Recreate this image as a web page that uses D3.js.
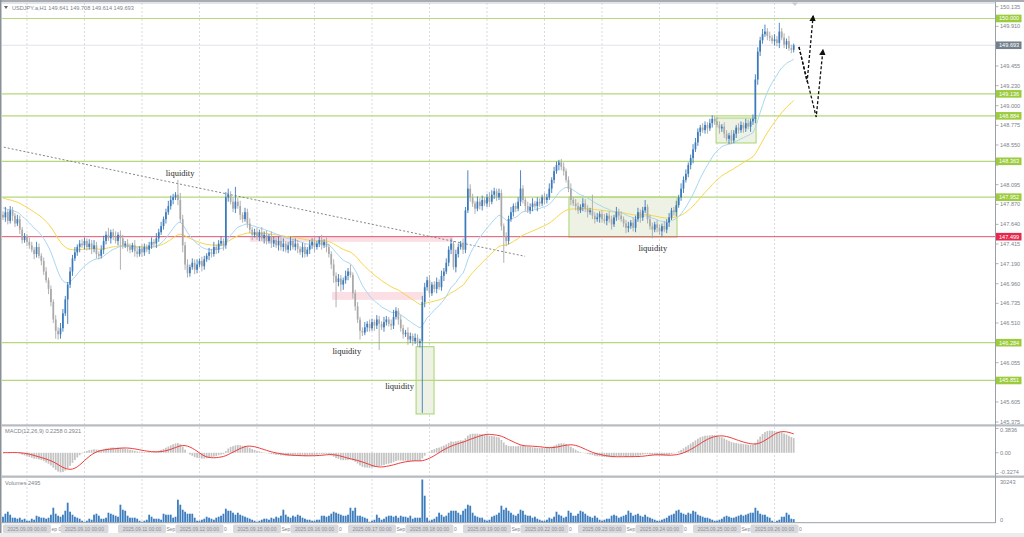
<!DOCTYPE html>
<html><head><meta charset="utf-8">
<script src="https://cdn.jsdelivr.net/npm/d3@7"></script>
<style>
body{margin:0;background:#fff;overflow:hidden}
svg{display:block}
text{font-family:"Liberation Sans",Arial,sans-serif}
text.lq{font-family:"Liberation Serif","DejaVu Serif",serif}
</style></head>
<body><svg id="c" width="1024" height="537"></svg>
<script>
// ---------------- DATA ----------------
const symbolTitle = "USDJPY.a,H1";
const lastOHLC = ["149.641","149.708","149.614","149.693"];
const firstOpen = 147.75;
// hourly closes, 2025.09.08 14:00 .. 2025.09.26 08:00
const closes = [
147.72,147.78,147.68,147.80,147.74,147.65,147.70,147.58,147.46,147.50,147.44,
147.40,147.35,147.30,147.38,147.28,147.22,147.10,147.00,146.90,146.75,146.55,146.42,146.38,146.45,
146.62,146.78,146.95,147.10,147.25,147.32,147.38,147.42,
147.40,147.45,147.38,147.42,147.36,147.40,147.30,147.28,147.35,147.45,147.52,147.48,147.55,147.50,147.45,147.52,147.48,147.40,
147.42,147.38,147.35,147.40,147.33,147.30,147.36,147.32,147.38,147.35,147.40,147.44,147.42,147.48,147.55,
147.62,147.70,147.78,147.85,147.92,147.95,147.98,147.92,
147.70,147.40,147.18,147.08,147.15,147.20,147.12,147.18,147.22,147.16,147.24,
147.28,147.32,147.30,147.38,147.35,147.42,147.45,147.40,
147.95,147.98,147.90,147.82,147.90,147.85,147.75,147.70,147.78,147.65,147.58,147.52,147.55,147.50,
147.55,147.48,147.52,147.45,147.50,147.42,147.46,147.40,147.45,147.38,147.42,147.35,147.40,147.45,147.38,147.42,147.36,147.32,147.38,147.30,147.35,147.40,147.44,147.38,147.42,147.46,147.40,147.44,147.38,
147.30,147.18,147.05,146.98,147.02,146.95,147.00,147.05,147.10,147.06,146.85,146.70,
146.55,146.42,146.40,146.46,146.50,146.45,146.52,146.48,146.55,146.50,146.46,146.52,146.55,146.50,146.48,146.58,146.65,146.55,
146.45,146.38,146.40,146.32,146.36,146.30,146.34,146.28,146.30,
146.75,
146.92,147.00,146.85,146.95,146.90,146.98,146.92,147.05,147.10,147.20,147.35,147.42,147.15,147.30,147.38,147.42,147.35,147.80,148.05,
147.95,147.88,147.82,147.90,147.85,147.92,147.88,147.95,147.90,147.98,148.02,147.95,148.00,147.62,147.50,147.45,
147.70,147.78,147.85,147.82,147.90,148.05,147.92,147.85,147.80,147.84,147.88,147.85,147.90,147.88,147.95,147.92,
147.95,148.05,148.15,148.25,148.32,148.35,148.30,148.25,148.15,148.05,147.92,147.88,
147.85,147.80,147.84,147.88,147.82,147.78,147.80,147.74,147.70,147.72,147.76,147.70,147.68,147.74,147.70,147.64,147.72,147.78,147.74,147.70,147.65,147.60,
147.62,147.66,147.60,147.70,147.78,147.72,147.80,147.84,147.70,147.62,147.58,147.64,147.60,147.56,147.62,147.58,147.66,147.72,147.80,147.78,
147.86,147.95,148.05,148.15,148.22,148.32,148.40,148.50,148.58,148.70,148.75,148.72,148.78,148.74,148.80,148.85,148.82,
148.78,148.74,148.76,148.68,148.62,148.66,148.60,148.68,148.75,148.72,148.78,148.74,148.80,148.76,148.82,148.85,
149.30,149.62,149.75,149.82,149.85,149.80,149.78,149.74,149.76,149.72,149.85,149.78,149.70,149.74,149.66,149.641,149.693
];
// upper / lower shadows in pips (0.01)
const wickUp = [
4,6,3,5,4,3,5,4,3,4,3,5,4,3,6,4,3,4,5,3,
4,3,5,4,6,5,4,3,5,4,6,3,4,5,4,3,5,4,6,4,
3,5,6,4,8,3,4,6,3,5,4,3,5,4,3,6,4,3,5,4,
3,4,5,3,6,4,5,3,4,6,5,4,3,17,8,5,4,6,3,5,
4,6,3,5,4,3,5,4,6,3,4,5,3,6,7,4,5,17,4,6,
3,5,4,6,3,4,5,3,6,4,5,3,6,4,3,5,4,6,3,4,
5,3,6,4,3,5,4,3,6,4,5,3,4,6,3,5,4,3,6,4,
5,4,3,6,4,8,3,4,5,3,4,6,3,5,4,3,5,4,3,6,
4,3,5,8,4,3,5,4,3,6,4,3,5,4,3,7,5,4,6,3,
4,5,3,6,4,5,4,6,3,5,4,3,6,4,21,5,4,3,6,4,
5,3,4,6,5,4,3,5,4,3,5,4,6,3,4,5,21,4,3,5,
4,6,3,5,4,3,5,4,6,3,5,4,3,4,5,3,4,6,3,5,
4,3,6,5,4,3,18,4,5,3,4,6,3,5,4,3,6,4,5,3,
4,5,3,6,4,5,3,4,8,3,5,4,3,5,4,3,6,4,5,3,
4,5,3,6,4,5,3,4,6,5,4,3,5,4,3,5,4,3,5,4,
3,5,4,3,6,4,3,5,4,3,5,4,3,5,6,5,4,6,8,4,
5,3,6,4,10,4,5,3,6,4,2
];
const wickDn = [
3,5,4,3,6,4,3,5,4,3,5,4,3,6,4,3,5,4,3,6,
5,4,9,6,5,4,3,28,4,5,3,4,6,3,5,4,3,6,4,5,
4,3,5,4,3,6,4,3,5,36,4,3,5,4,3,6,4,3,5,4,
3,5,4,3,5,4,3,4,5,3,4,5,3,6,4,8,6,5,4,3,
5,4,3,6,4,3,5,4,3,5,4,3,6,4,5,3,4,5,3,6,
4,3,5,4,6,3,4,5,3,6,4,3,5,4,3,6,4,5,3,4,
6,3,4,5,3,6,4,3,5,4,6,3,4,5,3,6,4,5,8,29,
5,8,6,4,5,3,6,5,4,10,4,3,5,4,3,6,4,30,3,5,
4,3,5,4,3,6,4,5,3,6,4,5,3,4,5,82,6,4,5,3,
4,5,3,4,6,3,4,5,3,6,4,3,5,4,3,5,4,6,3,4,
5,3,4,6,3,5,4,3,5,30,6,4,3,5,4,3,5,4,6,3,
4,5,3,6,4,3,5,4,3,5,4,3,6,4,5,3,4,6,3,5,
4,3,5,4,6,3,4,5,3,6,4,3,5,4,6,3,4,5,3,4,
6,5,3,4,5,3,6,4,3,5,4,10,3,5,4,6,3,4,5,3,
4,5,3,4,5,3,4,5,6,3,4,5,3,4,6,3,5,4,3,6,
4,5,3,6,4,3,5,4,3,5,4,3,6,4,5,6,5,4,3,5,
4,3,5,4,6,3,4,5,3,4,3
];
const volumes = [
4200,6300,7700,5600,3500,3500,2800,3500,2100,2800,
1400,1400,2800,2100,4900,4200,3500,3500,2800,3500,5600,10500,6300,4900,4200,5600,8400,14000,7700,5600,4200,3500,2800,1400,
700,1400,2800,2100,5600,6300,4900,2800,2800,3500,7000,6300,5600,4900,4200,12600,9100,8400,4900,3500,3500,3500,2800,1400,
700,1400,2100,5600,4200,2800,2800,2800,2100,6300,5600,5600,5600,3500,4200,16100,12600,9100,7700,6300,6300,6300,3500,1400,
1400,2100,2800,4200,3500,2800,2100,3500,4200,4900,6300,9800,8400,8400,7000,5600,7000,5600,4900,4200,3500,2800,2100,1400,
700,1400,2100,2800,2800,2100,3500,2800,4200,3500,4900,9100,5600,4200,3500,4900,4200,5600,4900,3500,2800,2100,2100,1400,
1400,2100,2100,4900,4900,4200,4900,6300,7700,7000,6300,5600,4900,4900,5600,10500,8400,10500,4900,4900,4200,3500,2800,700,
1400,2100,5600,3500,2100,2800,4200,4900,4900,4200,4900,3500,4900,4200,4200,3500,4900,2800,3500,3500,3500,30243,18900,3500,
1400,2100,2800,4200,7000,5600,4200,4900,7000,8400,8400,8400,7000,5600,8400,9800,12600,11900,7000,4900,4200,3500,3500,2100,
1400,2100,4200,4900,5600,7000,11900,9100,10500,8400,7000,5600,4900,6300,9100,8400,5600,4900,4900,3500,4200,2800,2100,1400,
1400,2100,3500,2800,4200,7700,5600,4900,3500,4200,8400,7000,4900,4900,6300,8400,7700,6300,4900,4200,3500,4900,3500,2100,
1400,2100,2800,2800,4900,5600,4900,3500,4200,4900,5600,8400,7000,4900,5600,6300,4900,4200,5600,4200,3500,2800,2100,1400,
1400,2100,2800,3500,4900,5600,6300,8400,9100,7000,6300,5600,7000,6300,8400,7700,5600,4900,4200,3500,3500,2800,2100,1400,
1400,2100,2800,4200,4900,4200,3500,3500,4200,4900,5600,4900,5600,6300,7000,7000,10500,8400,6300,5600,5600,4200,3500,1400,
700,1400,2100,4200,4200,7000,5600,2800,2495
];
const dayLabels = ["2025.09.09 00:00","2025.09.10 00:00","2025.09.11 00:00","2025.09.12 00:00","2025.09.15 00:00","2025.09.16 00:00","2025.09.17 00:00","2025.09.18 00:00","2025.09.19 00:00","2025.09.22 00:00","2025.09.23 00:00","2025.09.24 00:00","2025.09.25 00:00","2025.09.26 00:00"];
const dayStartBar = [10,34,58,82,106,130,154,178,202,226,250,274,298,322];
const axisFragments = ["ep 0","","Sep","0","Sep","0","Sep","0","Sep","0","Sep","0","Sep","0"];
const priceTicks = [150.135,149.910,149.680,149.455,149.230,149.000,148.775,148.550,148.320,148.095,147.870,147.640,147.415,147.190,146.960,146.735,146.510,146.285,146.055,145.830,145.605,145.375];
const greenLevels = [150.000,149.136,148.884,148.363,147.952,146.284,145.851];
const redLevel = 147.499;
const macdTicks = [["0.3836",0.3836],["0.00",0],["-0.3274",-0.3274]];
const macdTitle = "MACD(12,26,9) 0.2258 0.2921";
const volTitle = "Volumes 2495";
const volMax = 30243;
// drawn objects in [bar, price]
const trendLine = [[-1.3,148.534],[217.9,147.274]];
const pinkZones = [[103.1,187.8,147.499,147.44],[137.3,175.3,146.865,146.775]];
const greenZones = [[172.4,179.9,146.238,145.467],[236.2,281.3,147.954,147.495],[297.6,314.3,148.859,148.573]];
const liquidityNotes = [[73.9,148.19],[143.5,146.15],[165.5,145.75],[271.2,147.33]];
const arrowPaths = [[[332.2,149.673],[335.6,149.272],[338.1,150.028]],[[332.2,149.673],[339.4,148.871],[342.2,149.639]]];
const fastSeed = 147.84, slowSeed = 147.95;

// ---------------- CHART ----------------
const svg = d3.select("#c");
const N = closes.length;
const candles = closes.map((c,i)=>{
  const o = i ? closes[i-1] : firstOpen;
  return {i, o, c, h: Math.max(o,c)+wickUp[i]/100, l: Math.min(o,c)-wickDn[i]/100, v: volumes[i]};
});
const x = d3.scaleLinear().domain([0,330]).range([3,793.7]);
const y = d3.scaleLinear().domain([145.375,150.135]).range([422,6.7]);
const yM = d3.scaleLinear().domain([-0.3274,0.3836]).range([473.5,428.5]);
const yV = d3.scaleLinear().domain([0,volMax]).range([522.7,479.5]);
const AX = 995.5;
const txtCol = "#7d838c";

// background / frame
svg.append("rect").attr("width",1024).attr("height",537).attr("fill","#fff");
svg.append("rect").attr("x",0).attr("y",533).attr("width",1024).attr("height",4).attr("fill","#ececec");
svg.append("rect").attr("x",0).attr("y",0).attr("width",1024).attr("height",2).attr("fill","#a9adb3");
svg.append("rect").attr("x",0).attr("y",0).attr("width",1.5).attr("height",533).attr("fill","#8c9198");

const defs = svg.append("defs");
defs.append("clipPath").attr("id","cm").append("rect").attr("x",2).attr("y",3).attr("width",AX-2).attr("height",421.5);
defs.append("clipPath").attr("id","cd").append("rect").attr("x",2).attr("y",427).attr("width",AX-2).attr("height",48.5);
defs.append("clipPath").attr("id","cv").append("rect").attr("x",2).attr("y",478).attr("width",AX-2).attr("height",44.7);
defs.append("marker").attr("id","ah").attr("viewBox","0 0 10 10").attr("refX",8).attr("refY",5)
  .attr("markerWidth",5).attr("markerHeight",5).attr("orient","auto")
  .append("path").attr("d","M0,0 L10,5 L0,10 z").attr("fill","#111");

// grid (day separators)
svg.append("g").attr("class","grid").selectAll("line").data(dayStartBar).join("line")
  .attr("x1",d=>x(d)).attr("x2",d=>x(d)).attr("y1",3).attr("y2",522.7)
  .attr("stroke","#cfd2d6").attr("stroke-width",0.8).attr("stroke-dasharray","2,2");

const gm = svg.append("g").attr("clip-path","url(#cm)");
// zones
gm.selectAll("rect.pz").data(pinkZones).join("rect").attr("class","pz")
  .attr("x",d=>x(d[0])).attr("width",d=>x(d[1])-x(d[0]))
  .attr("y",d=>y(d[2])).attr("height",d=>y(d[3])-y(d[2])).attr("fill","#fbdfe5");
gm.selectAll("rect.gz").data(greenZones).join("rect").attr("class","gz")
  .attr("x",d=>x(d[0])).attr("width",d=>x(d[1])-x(d[0]))
  .attr("y",d=>y(d[2])).attr("height",d=>y(d[3])-y(d[2]))
  .attr("fill","#eef2e5").attr("stroke","#a6d36e").attr("stroke-width",1);
// levels
gm.selectAll("line.gl").data(greenLevels).join("line").attr("class","gl")
  .attr("x1",2).attr("x2",AX).attr("y1",d=>y(d)).attr("y2",d=>y(d))
  .attr("stroke","#b4d87a").attr("stroke-width",1.2);
gm.append("line").attr("x1",2).attr("x2",AX).attr("y1",y(redLevel)).attr("y2",y(redLevel))
  .attr("stroke","#e0546c").attr("stroke-width",1);
const lastClose = closes[N-1];
gm.append("line").attr("x1",2).attr("x2",AX).attr("y1",y(lastClose)).attr("y2",y(lastClose))
  .attr("stroke","#e2e2f2").attr("stroke-width",1);
// trend line
gm.append("line").attr("x1",x(trendLine[0][0])).attr("y1",y(trendLine[0][1]))
  .attr("x2",x(trendLine[1][0])).attr("y2",y(trendLine[1][1]))
  .attr("stroke","#777").attr("stroke-width",0.9).attr("stroke-dasharray","2,2");

// moving averages
function ema(arr,n,seed){const a=2/(n+1);let e=seed;return arr.map(v=>(e=e+a*(v-e)));}
const maFast = ema(closes,20,fastSeed), maSlow = ema(closes,50,slowSeed);
const ln = d3.line().x((d,i)=>x(i)).y(d=>y(d));
gm.append("path").attr("d",ln(maSlow)).attr("fill","none").attr("stroke","#f6d54a").attr("stroke-width",1);
gm.append("path").attr("d",ln(maFast)).attr("fill","none").attr("stroke","#a6d6f2").attr("stroke-width",1);

// candles
const bull="#3b79ba", bear="#a9a9a9";
const cg = gm.append("g");
cg.selectAll("line").data(candles).join("line")
  .attr("x1",d=>x(d.i)).attr("x2",d=>x(d.i)).attr("y1",d=>y(d.h)).attr("y2",d=>y(d.l))
  .attr("stroke",d=>d.c>=d.o?bull:bear).attr("stroke-width",0.9);
cg.selectAll("rect").data(candles).join("rect")
  .attr("x",d=>x(d.i)-0.85).attr("width",1.7)
  .attr("y",d=>y(Math.max(d.o,d.c))).attr("height",d=>Math.max(0.8,Math.abs(y(d.o)-y(d.c))))
  .attr("fill",d=>d.c>=d.o?bull:bear);

// notes
gm.selectAll("text.lq").data(liquidityNotes).join("text").attr("class","lq")
  .attr("x",d=>x(d[0])).attr("y",d=>y(d[1])).attr("text-anchor","middle")
  .attr("font-size",8.5).attr("fill","#2a2a2a")
  .text("liquidity");
// arrows
const la = d3.line().x(d=>x(d[0])).y(d=>y(d[1]));
svg.selectAll("path.ar").data(arrowPaths).join("path").attr("class","ar")
  .attr("d",d=>la(d)).attr("fill","none").attr("stroke","#111").attr("stroke-width",1.3)
  .attr("stroke-dasharray","3,2").attr("marker-end","url(#ah)");
svg.append("path").attr("d",`M${x(330.5)-3},2.5 L${x(330.5)+3},2.5 L${x(330.5)},6 z`).attr("fill","#c8ccd4");

// header
svg.append("path").attr("d","M4,6 L8,6 L6,9 z").attr("fill","#666");
svg.append("text").attr("x",12).attr("y",9.5).attr("font-size",5.6).attr("fill",txtCol)
  .text(symbolTitle+"  "+lastOHLC.join(" "));

// MACD
const e12 = ema(closes,12,closes[0]), e26 = ema(closes,26,closes[0]);
const macd = e12.map((v,i)=>v-e26[i]);
const signal = macd.map((v,i)=>d3.mean(macd.slice(Math.max(0,i-8),i+1)));
const gd = svg.append("g").attr("clip-path","url(#cd)");
gd.selectAll("rect").data(macd).join("rect")
  .attr("x",(d,i)=>x(i)-0.85).attr("width",1.7)
  .attr("y",d=>Math.min(yM(d),yM(0))).attr("height",d=>Math.abs(yM(d)-yM(0)))
  .attr("fill","#c3c3c3");
gd.append("path").attr("d",d3.line().x((d,i)=>x(i)).y(d=>yM(d))(signal))
  .attr("fill","none").attr("stroke","#f03a3a").attr("stroke-width",1);
svg.append("text").attr("x",5).attr("y",433).attr("font-size",5.6).attr("fill",txtCol).text(macdTitle);

// Volumes
const gv = svg.append("g").attr("clip-path","url(#cv)");
gv.selectAll("rect").data(candles).join("rect")
  .attr("x",d=>x(d.i)-0.9).attr("width",1.8)
  .attr("y",d=>yV(d.v)).attr("height",d=>yV(0)-yV(d.v)).attr("fill","#3d7dbe");
svg.append("text").attr("x",5).attr("y",485).attr("font-size",5.6).attr("fill",txtCol).text(volTitle);

// panel frames
const fr = svg.append("g");
[[424.3,2.2],[475.5,2.3]].forEach(([yy,hh])=>fr.append("rect").attr("x",1.5).attr("y",yy).attr("width",1022.5).attr("height",hh).attr("fill","#b7bcc3"));
fr.append("line").attr("x1",1.5).attr("x2",AX).attr("y1",522.7).attr("y2",522.7).attr("stroke","#9aa0a8").attr("stroke-width",1);
fr.append("line").attr("x1",AX).attr("x2",AX).attr("y1",2).attr("y2",523).attr("stroke","#9aa0a8").attr("stroke-width",1);
fr.append("line").attr("x1",1.5).attr("x2",AX).attr("y1",3).attr("y2",3).attr("stroke","#c5c9ce").attr("stroke-width",1);

// right price axis (labels hidden by level tags are not drawn)
const lastCloseVal = closes[N-1];
const tagVals = greenLevels.concat([redLevel, lastCloseVal]);
const visTicks = priceTicks.filter(t=>tagVals.every(v=>Math.abs(y(v)-y(t))>6));
const ra = svg.append("g");
ra.selectAll("line").data(priceTicks).join("line")
  .attr("x1",AX).attr("x2",AX+3).attr("y1",d=>y(d)).attr("y2",d=>y(d)).attr("stroke","#9aa0a8").attr("stroke-width",0.8);
ra.selectAll("text").data(visTicks).join("text")
  .attr("x",AX+4.5).attr("y",d=>y(d)+2).attr("font-size",5.6).attr("fill",txtCol)
  .text(d=>d3.format(".3f")(d));
function tag(val, col, label){
  const yy = y(val);
  ra.append("rect").attr("x",AX+0.5).attr("y",yy-3.8).attr("width",25.5).attr("height",7.6).attr("fill",col);
  ra.append("text").attr("x",AX+3.5).attr("y",yy+2).attr("font-size",5.6).attr("fill","#fff").text(label);
}
greenLevels.forEach(v=>tag(v,"#9ccb3e",d3.format(".3f")(v)));
tag(redLevel,"#e6284c",d3.format(".3f")(redLevel));
tag(lastClose,"#737f8c",d3.format(".3f")(lastClose));

// MACD / volume axes
macdTicks.forEach(([t,v])=>{
  const yy = Math.min(Math.max(yM(v),430),472);
  ra.append("line").attr("x1",AX).attr("x2",AX+3).attr("y1",yM(v)).attr("y2",yM(v)).attr("stroke","#9aa0a8").attr("stroke-width",0.8);
  ra.append("text").attr("x",AX+4.5).attr("y",yy+2).attr("font-size",5.6).attr("fill",txtCol).text(t);
});
[[String(volMax),482],["0",519.5]].forEach(([t,yy])=>{
  ra.append("text").attr("x",AX+4.5).attr("y",yy+2).attr("font-size",5.6).attr("fill",txtCol).text(t);
});

// time axis
const ta = svg.append("g");
ta.selectAll("text.fr").data(axisFragments).join("text").attr("class","fr")
  .attr("x",(d,k)=>x(dayStartBar[k])+24.5).attr("y",531).attr("font-size",5).attr("fill",txtCol).text(d=>d);
dayLabels.forEach((t,k)=>{
  const cx = x(dayStartBar[k]);
  ta.append("rect").attr("x",cx-24).attr("y",524.5).attr("width",48).attr("height",8.5).attr("rx",1.5).attr("fill","#d7d9dc");
  ta.append("text").attr("x",cx).attr("y",531).attr("text-anchor","middle").attr("font-size",5).attr("fill","#8c9096").text(t);
});
</script></body></html>
